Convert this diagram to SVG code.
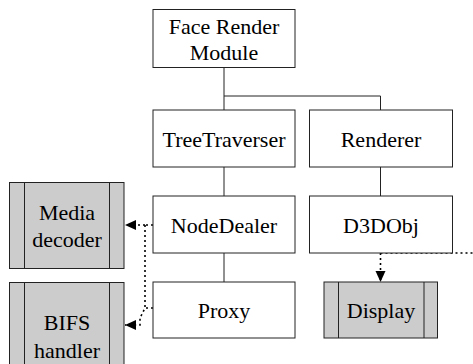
<svg xmlns="http://www.w3.org/2000/svg" width="473" height="364" viewBox="0 0 473 364">
<style>
.box{fill:#fff;stroke:#222;stroke-width:1}
.ext{fill:#cccccc;stroke:#222;stroke-width:1}
.sep{stroke:#222;stroke-width:1;fill:none}
.t{font-family:'Liberation Serif','DejaVu Serif','Times New Roman',serif;font-size:22px;fill:#000;text-anchor:middle}
.solid{stroke:#222;stroke-width:1;fill:none}
.dot{stroke:#000;stroke-width:1.6;fill:none;stroke-dasharray:2 3}
</style>
<defs>
<marker id="ah" markerWidth="12" markerHeight="12" refX="11" refY="6" orient="auto" markerUnits="userSpaceOnUse">
<path d="M0,1 L11,6 L0,11 Z" fill="#000"/>
</marker>
</defs>
<g id="connectors">
<path class="solid" d="M224,67 V110 M224,96 H380.5 V110"/>
<path class="solid" d="M224,167 V196"/>
<path class="solid" d="M380.5,167 V196"/>
<path class="solid" d="M224,253 V282"/>
<path class="dot" d="M153,225 H145 M145,225 H125" marker-end="url(#ah)"/>
<path class="dot" d="M145,225 V308 L140,318 V325 H125" marker-end="url(#ah)"/>
<path class="dot" d="M153,308 H145"/>
<path class="dot" d="M380.5,253 V282" marker-end="url(#ah)"/>
<path class="dot" d="M380.5,253 H473"/>
</g>
<g id="face-render-module">
<rect class="box" x="153" y="9.5" width="142" height="58"/>
<text class="t" x="224" y="34">Face Render</text>
<text class="t" x="224" y="60">Module</text>
</g>
<g id="tree-traverser">
<rect class="box" x="153" y="110" width="142" height="57"/>
<text class="t" x="224" y="147">TreeTraverser</text>
</g>
<g id="renderer">
<rect class="box" x="309.5" y="110" width="143" height="57"/>
<text class="t" x="381" y="147">Renderer</text>
</g>
<g id="node-dealer">
<rect class="box" x="153" y="196" width="142" height="57"/>
<text class="t" x="224" y="233">NodeDealer</text>
</g>
<g id="d3dobj">
<rect class="box" x="309.5" y="196" width="143" height="57"/>
<text class="t" x="381" y="233">D3DObj</text>
</g>
<g id="proxy">
<rect class="box" x="153" y="282" width="142" height="56"/>
<text class="t" x="224" y="318">Proxy</text>
</g>
<g id="display">
<rect class="ext" x="324" y="282" width="113.5" height="56"/>
<path class="sep" d="M338.5,282 V338 M424,282 V338"/>
<text class="t" x="381" y="318">Display</text>
</g>
<g id="media-decoder">
<rect class="ext" x="9.5" y="182.5" width="114.5" height="86"/>
<path class="sep" d="M24.5,182.5 V268.5 M109.5,182.5 V268.5"/>
<text class="t" x="67" y="220">Media</text>
<text class="t" x="67" y="246.5">decoder</text>
</g>
<g id="bifs-handler">
<rect class="ext" x="9.5" y="282.5" width="114.5" height="90"/>
<path class="sep" d="M24.5,282.5 V372 M109.5,282.5 V372"/>
<text class="t" x="67" y="330">BIFS</text>
<text class="t" x="67" y="357.5">handler</text>
</g>
</svg>
